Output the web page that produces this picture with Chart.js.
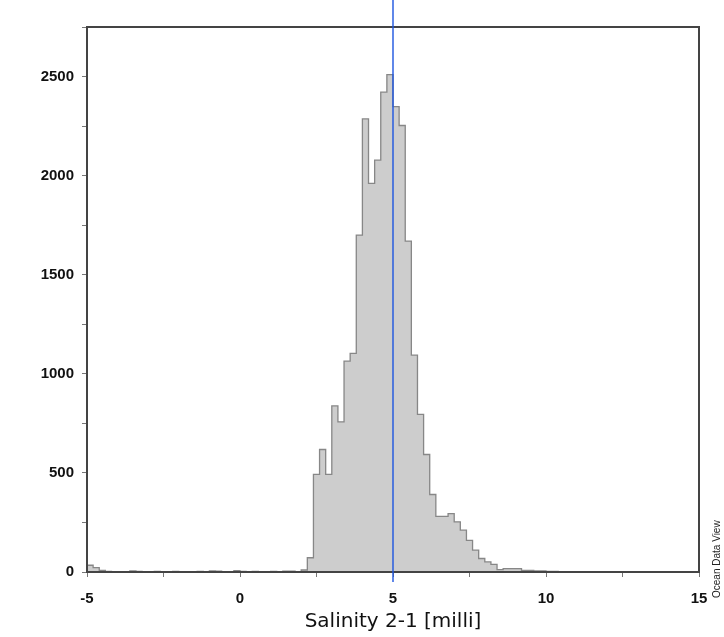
<!DOCTYPE html>
<html>
<head>
<meta charset="utf-8">
<title>Salinity 2-1 histogram</title>
<script src="https://cdn.jsdelivr.net/npm/chart.js@4.4.1/dist/chart.umd.min.js"></script>
<style>
  html, body { margin: 0; padding: 0; background: #fff; }
  #wrap { width: 724px; height: 637px; }
</style>
</head>
<body>
<div id="wrap"><canvas id="hist" width="724" height="637"></canvas></div>
<script>
// histogram bins: left edge of first bin and bin width
const binStart = -5;
const binWidth = 0.2;

// counts per bin (-5.0 .. 14.8)
const counts = [
  34, 22, 8, 3, 2, 2, 0, 5, 3, 0,
  2, 3, 2, 0, 3, 2, 0, 2, 3, 0,
  5, 4, 0, 2, 7, 3, 2, 3, 2, 0,
  3, 2, 4, 4, 2,
  10, 72, 493, 618, 493, 838, 758, 1064, 1103, 1700,
  2286, 1961, 2078, 2421, 2510, 2348, 2253, 1670, 1094, 795,
  593, 391, 281, 281, 295, 253, 211, 160, 110, 68,
  51, 38, 12, 17, 17, 17, 8, 8, 5, 5,
  3, 3, 2, 0, 1, 0, 2, 2, 0, 2, 2, 0,
  0, 0, 0, 0, 0, 0, 0, 0, 0, 0, 0, 0, 0
];

const xTickLabels = [-5, 0, 5, 10, 15];
const yTickLabels = [0, 500, 1000, 1500, 2000, 2500];
const markerX = 5;   // blue reference line
const xTitle = 'Salinity 2-1 [milli]';
const watermark = 'Ocean Data View';

// stepped outline: one point per bin edge, last one closes the final bin
const stepPoints = counts.map((c, i) => ({ x: binStart + i * binWidth, y: c }));
stepPoints.push({ x: binStart + counts.length * binWidth, y: counts[counts.length - 1] });

const frameAndMarker = {
  id: 'frameAndMarker',
  afterDatasetsDraw: (chart) => {
    const { ctx, chartArea: a, scales } = chart;
    ctx.save();
    ctx.strokeStyle = '#444';
    ctx.lineWidth = 2;
    ctx.strokeRect(a.left, a.top, a.right - a.left, a.bottom - a.top);

    const px = Math.round(scales.x.getPixelForValue(markerX));
    ctx.strokeStyle = '#1d55e0';
    ctx.lineWidth = 1.4;
    ctx.beginPath();
    ctx.moveTo(px, 0);
    ctx.lineTo(px, a.bottom + 10);
    ctx.stroke();
    ctx.restore();
  },
  afterDraw: (chart) => {
    const { ctx, chartArea: a } = chart;
    ctx.save();
    ctx.translate(a.right + 18, a.bottom + 26);
    ctx.rotate(-Math.PI / 2);
    ctx.font = '10px "Liberation Sans", Arial, sans-serif';
    ctx.fillStyle = '#222';
    ctx.textAlign = 'left';
    ctx.textBaseline = 'middle';
    ctx.fillText(watermark, 0, 0);
    ctx.restore();
  }
};

const tickFont = { family: '"Liberation Sans", Arial, sans-serif', size: 15, weight: 'bold' };

new Chart(document.getElementById('hist').getContext('2d'), {
  type: 'line',
  data: {
    datasets: [{
      data: stepPoints,
      stepped: true,
      fill: 'origin',
      backgroundColor: '#cdcdcd',
      borderColor: '#878787',
      borderWidth: 1.3,
      pointRadius: 0,
      tension: 0
    }]
  },
  options: {
    responsive: false,
    animation: false,
    devicePixelRatio: 1,
    layout: { padding: { top: 27, right: 25, left: 0, bottom: 0 } },
    plugins: { legend: { display: false }, tooltip: { enabled: false } },
    scales: {
      x: {
        type: 'linear',
        min: -5,
        max: 15,
        afterFit: (s) => { s.height = 65; },
        border: { display: false },
        grid: { drawOnChartArea: false, drawTicks: true, tickLength: 5, color: '#777' },
        ticks: {
          stepSize: 2.5,
          autoSkip: false,
          maxRotation: 0,
          padding: 13,
          color: '#111',
          font: tickFont,
          callback: (v) => xTickLabels.includes(v) ? String(v) : ''
        },
        title: {
          display: true,
          text: xTitle,
          color: '#111',
          font: { family: '"DejaVu Sans", sans-serif', size: 20 },
          padding: { top: 0, bottom: 3 }
        }
      },
      y: {
        min: 0,
        max: 2750,
        afterFit: (s) => { s.width = 87; },
        border: { display: false },
        grid: { drawOnChartArea: false, drawTicks: true, tickLength: 5, color: '#777' },
        ticks: {
          stepSize: 250,
          autoSkip: false,
          padding: 8,
          color: '#111',
          font: tickFont,
          callback: (v) => yTickLabels.includes(v) ? String(v) : ''
        }
      }
    }
  },
  plugins: [frameAndMarker]
});
</script>
</body>
</html>
